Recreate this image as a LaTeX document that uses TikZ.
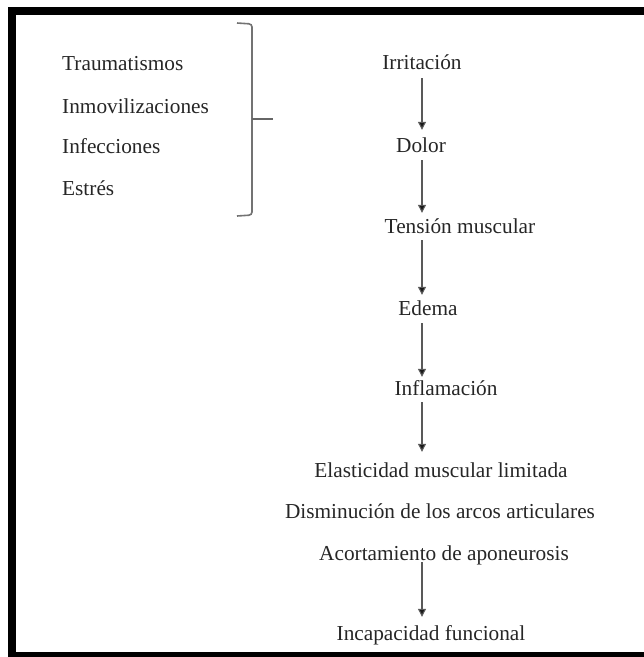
\documentclass[tikz,border=0pt]{standalone}
\usepackage{fontspec}
\setmainfont{Liberation Serif}
\usetikzlibrary{arrows.meta}
\begin{document}
\begin{tikzpicture}[x=1pt,y=-1pt,
  txt/.style={inner sep=2pt,text height=14pt,text depth=4pt,text=black!85,
    font=\fontsize{21.3}{24}\selectfont},
  lft/.style={txt,anchor=west},
  arr/.style={draw=black!65,line width=1.1pt,
    -{Triangle[length=8pt,width=8pt,fill=black!90]}},
  brk/.style={draw=black!55,line width=1.6pt,rounded corners=3pt},
  frame/.style={fill=black}]
\useasboundingbox (0,0) rectangle (644,657);
% frame (cut at right and bottom)
\fill[frame] (8,7) rectangle (644,15);
\fill[frame] (8,7) rectangle (16,657);
\fill[frame] (8,652) rectangle (644,657);
% left causes
\node[lft] (tra) at (60,65) {Traumatismos};
\node[lft] (inm) at (60,108) {Inmovilizaciones};
\node[lft] (inf1) at (60,148) {Infecciones};
\node[lft] (est) at (60,190) {Estrés};
% bracket
\coordinate (bt) at (252,24);
\coordinate (bb) at (252,215);
\coordinate (bm) at (252,119);
\coordinate (bx) at (273,119);
\draw[brk] (237,23) -- (bt) -- (bb) -- (237,216);
\draw[draw=black!60,line width=1.4pt] (bm) -- (bx);
% chain
\coordinate (ax) at (422,0);
\node[txt] (irr) at (422,64) {Irritación};
\node[txt] (dol) at (421,147) {Dolor};
\node[txt] (ten) at (460,228) {Tensión muscular};
\node[txt] (ede) at (428,310) {Edema};
\node[txt] (infl) at (446,390) {Inflamación};
\node[txt] (ela) at (441,472) {Elasticidad muscular limitada};
\node[txt] (dis) at (440,513) {Disminución de los arcos articulares};
\node[txt] (aco) at (444,555) {Acortamiento de aponeurosis};
\node[txt] (inc) at (431,635) {Incapacidad funcional};
\draw[arr,shorten <=3pt,shorten >=6pt] (irr.south -| ax) -- (dol.north -| ax);
\draw[arr,shorten <=2pt,shorten >=4pt] (dol.south -| ax) -- (ten.north -| ax);
\draw[arr,shorten <=1pt,shorten >=4pt] (ten.south -| ax) -- (ede.north -| ax);
\draw[arr,shorten <=2pt,shorten >=2pt] (ede.south -| ax) -- (infl.north -| ax);
\draw[arr,shorten <=1pt,shorten >=9pt] (infl.south -| ax) -- (ela.north -| ax);
\draw[arr,shorten <=-4pt,shorten >=7pt] (aco.south -| ax) -- (inc.north -| ax);
\end{tikzpicture}
\end{document}
